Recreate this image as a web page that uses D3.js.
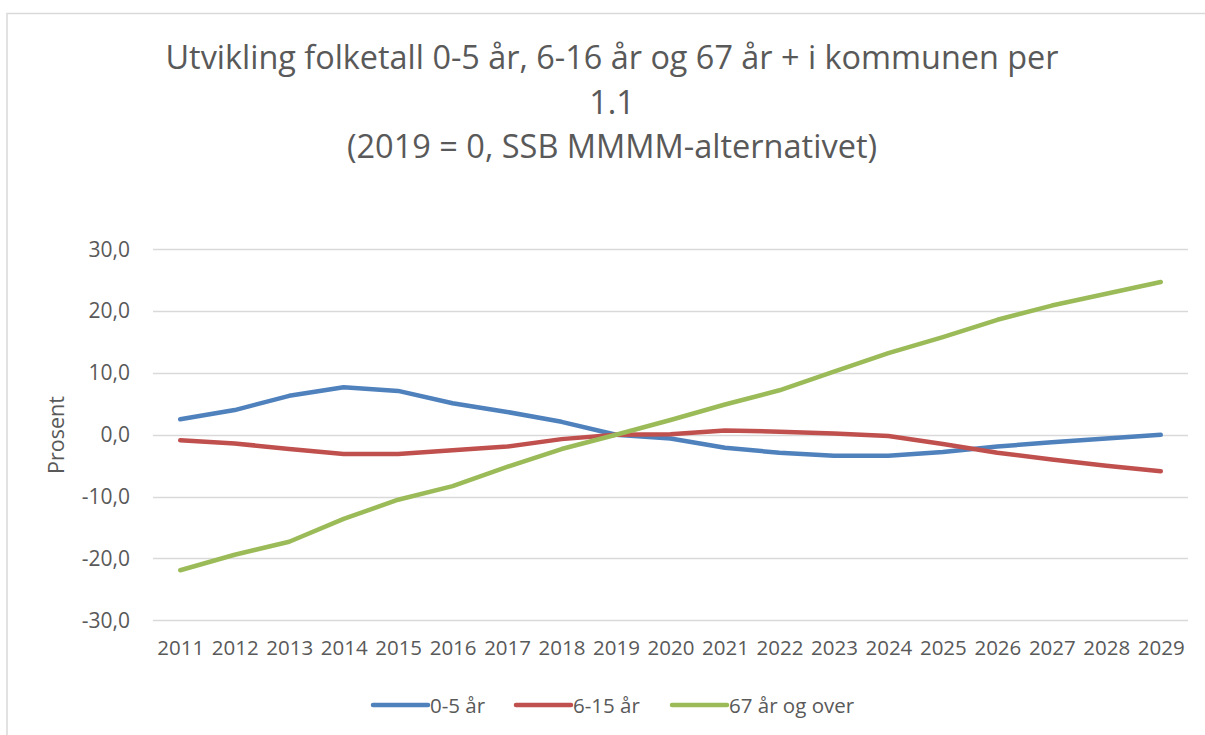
<!DOCTYPE html>
<html>
<head>
<meta charset="utf-8">
<script src="https://cdn.jsdelivr.net/npm/d3@7"></script>
<style>
	body { margin: 0; background: #fff; }
	svg { display: block; font-family: "Open Sans", sans-serif; }
</style>
</head>
<body>
<svg width="1205" height="735"></svg>
<script>
// data
var years = [2011, 2012, 2013, 2014, 2015, 2016, 2017, 2018, 2019, 2020,
	2021, 2022, 2023, 2024, 2025, 2026, 2027, 2028, 2029]
var age0to5 = [2.5, 4.0, 6.3, 7.7, 7.1, 5.1, 3.7, 2.1, 0.0, -0.6,
	-2.1, -2.9, -3.4, -3.4, -2.8, -1.9, -1.2, -0.6, 0.0]
var age6to15 = [-0.9, -1.4, -2.3, -3.1, -3.1, -2.5, -1.9, -0.7, 0.0, 0.1,
	0.7, 0.5, 0.2, -0.2, -1.5, -2.9, -4.0, -5.0, -5.9]
var age67plus = [-21.9, -19.4, -17.3, -13.6, -10.5, -8.3, -5.2, -2.3, 0.0, 2.4,
	4.9, 7.2, 10.2, 13.2, 15.8, 18.6, 20.9, 22.8, 24.7]
var yTicks = [-30, -20, -10, 0, 10, 20, 30]
var seriesNames = ["0-5 år", "6-15 år", "67 år og over"]
var titleLines = ["Utvikling folketall 0-5 år, 6-16 år og 67 år + i kommunen per", "1.1", "(2019 = 0, SSB MMMM-alternativet)"]

var series = [
	{ name: seriesNames[0], values: age0to5, color: "#4F81BD" },
	{ name: seriesNames[1], values: age6to15, color: "#C0504D" },
	{ name: seriesNames[2], values: age67plus, color: "#9BBB59" }
]

var textColor = "#595959"
var svg = d3.select("svg")

// chart frame (only top and left edges are visible in the crop)
svg.append("path")
	.attr("d", "M7,740 V13.5 H1210")
	.attr("fill", "none")
	.attr("stroke", "#D9D9D9")
	.attr("stroke-width", 1.5)

var x = d3.scalePoint()
	.domain(years)
	.range([153, 1188])
	.padding(0.5)

var y = d3.scaleLinear()
	.domain([-30, 30])
	.range([620.3, 249.3])

// title
var titleBase = [69, 114, 158]
var titleWidth = [893, null, 548]
svg.append("g")
	.selectAll("text")
	.data(titleLines)
	.enter()
	.append("text")
	.attr("x", 612)
	.attr("y", function(d, i) { return titleBase[i] })
	.attr("text-anchor", "middle")
	.attr("font-size", 32.5)
	.attr("fill", textColor)
	.text(function(d) { return d })
	.each(function(d, i) {
		var w = titleWidth[i]
		if (w && this.getComputedTextLength() > w) {
			d3.select(this).attr("textLength", w).attr("lengthAdjust", "spacingAndGlyphs")
		}
	})

// gridlines
svg.append("g")
	.selectAll("line")
	.data(yTicks)
	.enter()
	.append("line")
	.attr("x1", 153)
	.attr("x2", 1188)
	.attr("y1", function(d) { return Math.round(y(d)) + 0.5 })
	.attr("y2", function(d) { return Math.round(y(d)) + 0.5 })
	.attr("stroke", "#D9D9D9")
	.attr("stroke-width", 1.3)

// y axis labels
var yAxis = svg.append("g")
	.attr("transform", "translate(130,0)")
	.call(d3.axisLeft(y)
		.tickValues(yTicks)
		.tickSize(0)
		.tickPadding(0)
		.tickFormat(function(d) { return d3.format(".1f")(d).replace(".", ",").replace("−", "-") }))
yAxis.select(".domain").remove()
yAxis.selectAll("text")
	.attr("font-size", 21)
	.attr("font-family", "Open Sans")
	.attr("fill", textColor)

// x axis labels
var xAxis = svg.append("g")
	.attr("transform", "translate(0,640)")
	.call(d3.axisBottom(x).tickSize(0).tickPadding(0))
xAxis.select(".domain").remove()
xAxis.selectAll("text")
	.attr("font-size", 20.5)
	.attr("font-family", "Open Sans")
	.attr("fill", textColor)
	.attr("dy", "0.71em")

svg.append("text")
	.attr("transform", "translate(64,435) rotate(-90)")
	.attr("text-anchor", "middle")
	.attr("font-size", 21.5)
	.attr("fill", textColor)
	.text("Prosent")

// lines
var line = d3.line()
	.x(function(d, i) { return x(years[i]) })
	.y(function(d) { return y(d) })

svg.append("g")
	.selectAll("path")
	.data(series)
	.enter()
	.append("path")
	.attr("d", function(s) { return line(s.values) })
	.attr("fill", "none")
	.attr("stroke", function(s) { return s.color })
	.attr("stroke-width", 4.5)
	.attr("stroke-linecap", "round")
	.attr("stroke-linejoin", "round")

// legend
var legendX = [373, 516, 672]
var legend = svg.append("g")
	.selectAll("g")
	.data(series)
	.enter()
	.append("g")
	.attr("transform", function(d, i) { return "translate(" + legendX[i] + ",705)" })
legend.append("line")
	.attr("x1", 0)
	.attr("x2", 55)
	.attr("stroke", function(d) { return d.color })
	.attr("stroke-width", 4.5)
	.attr("stroke-linecap", "round")
legend.append("text")
	.attr("x", 57)
	.attr("y", 7.5)
	.attr("font-size", 20.5)
	.attr("fill", textColor)
	.text(function(d) { return d.name })
</script>
</body>
</html>
